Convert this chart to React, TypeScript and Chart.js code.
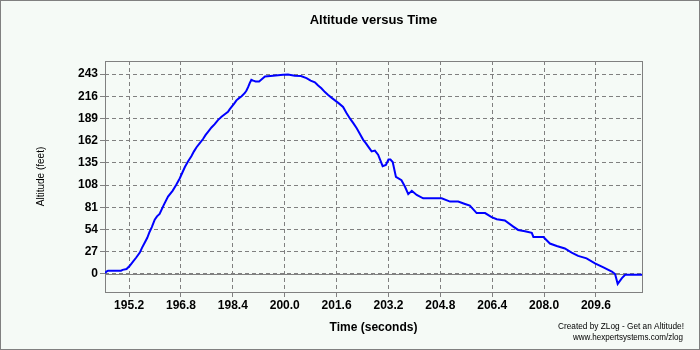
import React, { useEffect, useRef } from "react";
import { Chart, registerables } from "chart.js";

Chart.register(...registerables);

const timeSeconds = [
  194.46, 194.5, 194.55, 194.95, 195.0, 195.12, 195.22, 195.32, 195.42, 195.53,
  195.6, 195.68, 195.76, 195.83, 195.9, 195.99, 196.06, 196.14, 196.27, 196.4,
  196.54, 196.65, 196.76, 196.84, 196.92, 197.02, 197.12, 197.2, 197.28, 197.38,
  197.48, 197.56, 197.64, 197.74, 197.84, 197.94, 198.05, 198.15, 198.25, 198.3,
  198.36, 198.44, 198.51, 198.6, 198.67, 198.77, 198.82, 198.87, 198.92, 198.97,
  199.03, 199.1, 199.21, 199.3, 199.39, 199.64, 199.95, 200.1, 200.31, 200.5,
  200.67, 200.8, 200.93, 201.03, 201.13, 201.24, 201.34, 201.45, 201.55, 201.68,
  201.8, 201.9, 202.01, 202.12, 202.22, 202.32, 202.42, 202.5, 202.57, 202.68,
  202.78, 202.88, 202.95, 203.02, 203.12, 203.2, 203.26, 203.33, 203.43, 203.6,
  203.71, 203.81, 203.92, 204.07, 204.27, 204.84, 205.1, 205.35, 205.56, 205.71,
  205.92, 206.05, 206.18, 206.38, 206.54, 206.79, 207.05, 207.2, 207.41, 207.62,
  207.67, 207.98, 208.18, 208.39, 208.64, 208.85, 209.05, 209.31, 209.57, 209.83,
  210.09, 210.19, 210.27, 210.4, 210.5, 211.02,
];

const altitudeFeet = [
  1, 3, 4, 4, 5, 6, 10, 15, 20, 26,
  32, 38, 44, 51, 57, 66, 70, 73, 84, 94,
  101, 108, 116, 123, 130, 137, 143, 149, 154, 159,
  164, 169, 173, 178, 182, 187, 191, 194, 197, 200,
  203, 207, 211, 214, 216, 220, 223, 227, 232, 236,
  235, 234, 234, 237, 240, 241, 242, 242.5, 241, 240.5,
  238, 235, 233, 229, 225.6, 221, 217.5, 214, 211, 207,
  203, 196, 189, 183, 177, 170, 163, 159, 155, 149,
  150, 145, 138, 131, 132.5, 139, 139, 136, 118, 114,
  106, 97, 101, 96, 92, 92, 88, 88, 85, 83,
  74, 74, 74, 69, 66.5, 65, 57.5, 53.5, 52, 50,
  45, 45, 37, 34, 31, 26, 22, 19, 13, 8,
  3, 0, -12, -5, -1, -1,
];

const yTickValues = [0, 27, 54, 81, 108, 135, 162, 189, 216, 243];
const xTickValues = [195.2, 196.8, 198.4, 200.0, 201.6, 203.2, 204.8, 206.4, 208.0, 209.6];
const chartTitle = "Altitude versus Time";
const xAxisTitle = "Time (seconds)";
const yAxisTitle = "Altitude (feet)";
const creditLines = ["Created by ZLog - Get an Altitude!", "www.hexpertsystems.com/zlog"];

const FONT = '"Liberation Sans", Arial, sans-serif';
const BG = "#F5FAF6";
const GRID = "#808080";

const decorPlugin = {
  id: "decor",
  beforeDraw(chart: any) {
    const { ctx, width, height } = chart;
    ctx.save();
    ctx.fillStyle = BG;
    ctx.fillRect(0, 0, width, height);
    ctx.restore();
  },
  beforeDatasetsDraw(chart: any) {
    const { ctx, chartArea } = chart;
    const y = chart.scales.y;
    ctx.save();
    ctx.strokeStyle = GRID;
    ctx.lineWidth = 1;
    ctx.setLineDash([]);
    const zy = Math.round(y.getPixelForValue(0)) + 0.5;
    ctx.beginPath();
    ctx.moveTo(chartArea.left, zy);
    ctx.lineTo(chartArea.right, zy);
    ctx.stroke();
    ctx.strokeRect(
      Math.floor(chartArea.left) + 0.5,
      Math.floor(chartArea.top) + 0.5,
      Math.round(chartArea.right - chartArea.left),
      Math.round(chartArea.bottom - chartArea.top)
    );
    ctx.restore();
  },
  afterDraw(chart: any) {
    const { ctx, width, height, chartArea } = chart;
    const cx = (chartArea.left + chartArea.right) / 2;
    const cy = (chartArea.top + chartArea.bottom) / 2;
    ctx.save();
    ctx.fillStyle = "#000";
    ctx.textBaseline = "middle";
    ctx.textAlign = "center";
    ctx.font = `bold 13px ${FONT}`;
    ctx.fillText(chartTitle, cx, 20);
    ctx.font = `bold 12px ${FONT}`;
    ctx.fillText(xAxisTitle, cx, 328);
    ctx.save();
    ctx.translate(41, cy);
    ctx.rotate(-Math.PI / 2);
    ctx.font = `10px ${FONT}`;
    ctx.fillText(yAxisTitle, 0, 0);
    ctx.restore();
    ctx.textAlign = "right";
    ctx.font = `9px ${FONT}`;
    ctx.fillText(creditLines[0], 684, 327, 126);
    ctx.fillText(creditLines[1], 683, 337.5, 110);
    ctx.strokeStyle = GRID;
    ctx.lineWidth = 1;
    ctx.strokeRect(0.5, 0.5, width - 1, height - 1);
    ctx.restore();
  },
};

export default function App() {
  const ref = useRef<HTMLCanvasElement | null>(null);

  useEffect(() => {
    if (!ref.current) return;
    const points = timeSeconds.map((t, i) => ({ x: t, y: altitudeFeet[i] }));
    const tickFont = { family: FONT, size: 12, weight: "bold" as const };
    const chart = new Chart(ref.current, {
      type: "scatter",
      data: {
        datasets: [
          {
            data: points,
            showLine: true,
            borderColor: "#0000FF",
            borderWidth: 2,
            pointRadius: 0,
            tension: 0,
            fill: false,
          },
        ],
      },
      options: {
        animation: false,
        responsive: false,
        devicePixelRatio: 1,
        events: [],
        layout: { padding: { top: 61, right: 58, bottom: 0, left: 0 } },
        plugins: { legend: { display: false }, tooltip: { enabled: false }, title: { display: false } },
        scales: {
          x: {
            type: "linear",
            min: 194.456,
            max: 211.02,
            afterBuildTicks: (s: any) => {
              s.ticks = xTickValues.map((v) => ({ value: v }));
            },
            afterFit: (s: any) => {
              s.height = 58;
            },
            ticks: {
              callback: (v: any) => Number(v).toFixed(1),
              font: tickFont,
              color: "#000",
              padding: 1,
              maxRotation: 0,
              autoSkip: false,
            },
            grid: {
              color: GRID,
              lineWidth: 1,
              tickLength: 5,
              tickColor: GRID,
              tickBorderDash: [],
            },
            border: { display: false, dash: [4, 3] },
          },
          y: {
            type: "linear",
            min: -21.9,
            max: 258.8,
            afterBuildTicks: (s: any) => {
              s.ticks = yTickValues.map((v) => ({ value: v }));
            },
            afterFit: (s: any) => {
              s.width = 105;
            },
            ticks: {
              callback: (v: any) => String(v),
              font: tickFont,
              color: "#000",
              padding: 2,
              autoSkip: false,
            },
            grid: {
              color: GRID,
              lineWidth: 1,
              tickLength: 5,
              tickColor: GRID,
              tickBorderDash: [],
            },
            border: { display: false, dash: [4, 3] },
          },
        },
      },
      plugins: [decorPlugin],
    });
    return () => chart.destroy();
  }, []);

  return (
    <div style={{ position: "fixed", left: 0, top: 0, width: 700, height: 350 }}>
      <canvas ref={ref} width={700} height={350} style={{ display: "block", width: 700, height: 350 }} />
    </div>
  );
}
